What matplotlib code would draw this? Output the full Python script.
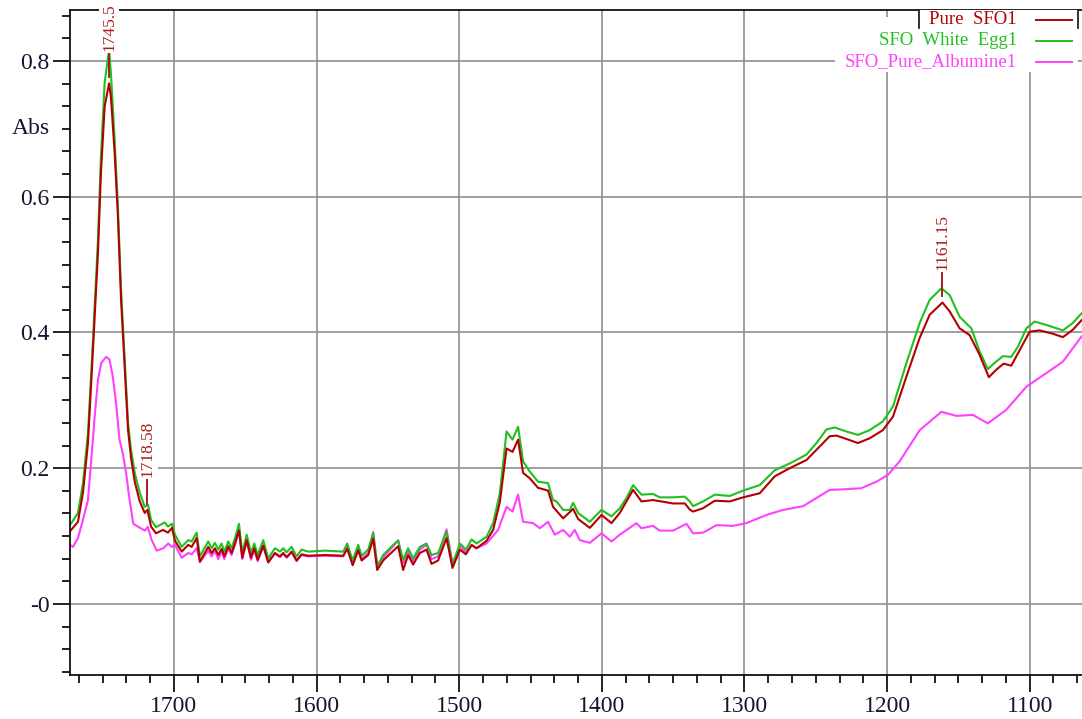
import numpy as np
import matplotlib
matplotlib.use("Agg")
import matplotlib.pyplot as plt
from matplotlib.ticker import FixedLocator, FixedFormatter, MultipleLocator
from matplotlib.transforms import Bbox, TransformedBbox, blended_transform_factory
from matplotlib.patches import Rectangle
from matplotlib.lines import Line2D

# ---------------- spectra (wavenumber in cm-1, absorbance) ----------------
# shared grid through the noisy 1700-1480 region
wn_mid = [1699.3, 1694.6, 1690.0, 1687.6, 1684.1, 1681.8, 1676.0, 1673.6, 1671.3, 1668.9,
          1666.6, 1664.7, 1661.9, 1659.6, 1657.2, 1654.4, 1652.1, 1649.0, 1646.0, 1643.7,
          1641.3, 1637.4, 1633.9, 1629.2, 1625.7, 1623.4, 1621.0, 1617.5, 1614.0, 1610.5,
          1605.9, 1594.2, 1581.3, 1578.5, 1574.7, 1570.8, 1568.4, 1563.8, 1560.3, 1557.5,
          1553.3, 1546.3, 1542.8, 1539.3, 1535.8, 1532.3, 1527.6, 1522.9, 1519.4, 1514.8,
          1508.9, 1504.7, 1499.5, 1495.3, 1491.3, 1487.8, 1480.8]

# Pure SFO1
sfo_left_wn = [1772.9, 1767.3, 1763.8, 1760.3, 1756.8, 1753.3, 1751.2, 1748.6, 1745.5, 1744.2,
               1741.6, 1739.3, 1737.1, 1734.6, 1732.2, 1730.1, 1727.5, 1724.0, 1720.5, 1718.58,
               1716.1, 1712.6, 1707.7, 1704.2, 1701.4]
sfo_left = [0.107, 0.121, 0.164, 0.237, 0.374, 0.517, 0.635, 0.733, 0.767, 0.747,
            0.665, 0.571, 0.448, 0.350, 0.256, 0.215, 0.180, 0.151, 0.134, 0.1385,
            0.114, 0.104, 0.109, 0.105, 0.112]
sfo_mid = [0.093, 0.077, 0.087, 0.084, 0.097, 0.062, 0.084, 0.075, 0.082, 0.072,
           0.081, 0.070, 0.085, 0.075, 0.089, 0.108, 0.068, 0.094, 0.068, 0.082,
           0.065, 0.086, 0.061, 0.075, 0.070, 0.075, 0.069, 0.077, 0.064, 0.073,
           0.071, 0.072, 0.071, 0.081, 0.057, 0.079, 0.064, 0.072, 0.096, 0.050,
           0.064, 0.078, 0.085, 0.050, 0.072, 0.058, 0.075, 0.080, 0.059, 0.064,
           0.097, 0.053, 0.080, 0.073, 0.087, 0.082, 0.093]
sfo_right_wn = [1476.2, 1471.5, 1466.8, 1462.6, 1458.7, 1455.2, 1450.5, 1444.7, 1437.7, 1434.2,
                1427.1, 1420.1, 1416.6, 1408.4, 1400.2, 1393.2, 1387.4, 1378.1, 1372.2, 1364.1,
                1350.0, 1341.8, 1338.3, 1336.0, 1329.0, 1320.8, 1310.3, 1300.9, 1289.3, 1278.7,
                1268.2, 1256.5, 1249.5, 1240.2, 1235.5, 1228.5, 1220.4, 1212.2, 1202.9, 1195.8,
                1186.4, 1177.1, 1170.1, 1161.15, 1156.1, 1149.1, 1142.1, 1135.1, 1128.6, 1123.4,
                1118.3, 1112.9, 1107.0, 1100.0, 1093.0, 1083.7, 1076.7, 1069.7, 1063.6]
sfo_right = [0.109, 0.150, 0.229, 0.224, 0.242, 0.193, 0.185, 0.171, 0.167, 0.143,
             0.126, 0.140, 0.125, 0.112, 0.131, 0.119, 0.134, 0.168, 0.151, 0.153,
             0.148, 0.148, 0.139, 0.136, 0.141, 0.152, 0.151, 0.157, 0.163, 0.188,
             0.200, 0.212, 0.227, 0.247, 0.248, 0.243, 0.237, 0.244, 0.256, 0.276,
             0.335, 0.392, 0.426, 0.444, 0.431, 0.406, 0.396, 0.367, 0.334, 0.345,
             0.354, 0.351, 0.374, 0.401, 0.403, 0.398, 0.393, 0.404, 0.418]

# SFO White Egg1
egg_left_wn = [1772.9, 1767.3, 1763.8, 1760.3, 1756.8, 1753.3, 1751.2, 1748.6, 1745.5, 1744.2,
               1741.6, 1739.3, 1737.1, 1734.6, 1732.2, 1730.1, 1727.5, 1724.0, 1720.5, 1718.2,
               1716.1, 1712.6, 1706.5, 1704.2, 1701.4]
egg_left = [0.116, 0.134, 0.178, 0.252, 0.389, 0.536, 0.659, 0.768, 0.816, 0.782,
            0.684, 0.585, 0.463, 0.364, 0.267, 0.227, 0.193, 0.164, 0.143, 0.146,
            0.124, 0.113, 0.120, 0.114, 0.118]
egg_mid = [0.102, 0.084, 0.094, 0.092, 0.105, 0.070, 0.092, 0.082, 0.090, 0.080,
           0.089, 0.077, 0.092, 0.082, 0.097, 0.118, 0.075, 0.102, 0.075, 0.089,
           0.072, 0.094, 0.067, 0.082, 0.077, 0.082, 0.076, 0.084, 0.070, 0.080,
           0.077, 0.0785, 0.077, 0.089, 0.064, 0.087, 0.071, 0.080, 0.104, 0.055,
           0.072, 0.087, 0.093, 0.065, 0.082, 0.067, 0.084, 0.089, 0.072, 0.075,
           0.1065, 0.0575, 0.089, 0.080, 0.095, 0.089, 0.099]
egg_right_wn = [1476.2, 1471.5, 1466.8, 1462.6, 1458.7, 1455.2, 1450.5, 1444.7, 1437.7, 1434.2,
                1431.8, 1427.1, 1422.4, 1420.1, 1416.6, 1408.4, 1400.2, 1393.2, 1387.4, 1382.7,
                1378.1, 1372.2, 1364.1, 1359.4, 1350.0, 1341.8, 1338.3, 1336.0, 1329.0, 1320.8,
                1310.3, 1300.9, 1289.3, 1278.7, 1268.2, 1256.5, 1249.5, 1242.5, 1236.7, 1228.5,
                1220.4, 1212.2, 1202.9, 1195.8, 1186.4, 1177.1, 1170.1, 1161.9, 1156.1, 1149.1,
                1140.9, 1135.1, 1129.3, 1124.6, 1118.8, 1112.9, 1108.2, 1102.3, 1096.5, 1088.3,
                1076.7, 1069.7, 1063.6]
egg_right = [0.119, 0.163, 0.254, 0.242, 0.261, 0.210, 0.195, 0.180, 0.178, 0.153,
             0.151, 0.1385, 0.1385, 0.149, 0.134, 0.121, 0.1385, 0.129, 0.141, 0.156,
             0.175, 0.161, 0.162, 0.157, 0.157, 0.158, 0.151, 0.144, 0.151, 0.161,
             0.159, 0.167, 0.175, 0.197, 0.207, 0.220, 0.237, 0.257, 0.260, 0.254,
             0.249, 0.256, 0.269, 0.291, 0.355, 0.414, 0.448, 0.465, 0.455, 0.423,
             0.406, 0.372, 0.346, 0.355, 0.365, 0.364, 0.379, 0.406, 0.416, 0.411,
             0.403, 0.414, 0.428]

# SFO_Pure_Albumine1
alb_left_wn = [1772.9, 1770.8, 1767.3, 1763.8, 1760.3, 1758.0, 1755.6, 1753.3, 1751.0, 1747.5,
               1745.2, 1742.9, 1740.6, 1738.2, 1735.9, 1733.6, 1731.1, 1728.5, 1723.8, 1720.3,
               1718.4, 1715.6, 1712.1, 1707.5, 1704.0, 1701.6]
alb_left = [0.087, 0.084, 0.097, 0.124, 0.153, 0.212, 0.276, 0.330, 0.355, 0.364,
            0.360, 0.335, 0.296, 0.242, 0.222, 0.193, 0.153, 0.118, 0.112, 0.108,
            0.1135, 0.094, 0.0785, 0.082, 0.089, 0.084]
alb_mid = [0.087, 0.068, 0.075, 0.073, 0.082, 0.062, 0.078, 0.070, 0.078, 0.066,
           0.077, 0.066, 0.082, 0.072, 0.088, 0.110, 0.066, 0.092, 0.065, 0.080,
           0.063, 0.084, 0.062, 0.074, 0.069, 0.074, 0.068, 0.076, 0.063, 0.072,
           0.070, 0.071, 0.070, 0.084, 0.060, 0.084, 0.066, 0.075, 0.106, 0.058,
           0.068, 0.085, 0.094, 0.060, 0.078, 0.063, 0.080, 0.087, 0.066, 0.070,
           0.110, 0.060, 0.085, 0.076, 0.086, 0.082, 0.089]
alb_right_wn = [1472.7, 1466.8, 1462.6, 1458.7, 1455.2, 1448.2, 1443.5, 1437.7, 1433.0, 1427.1,
                1422.4, 1419.0, 1415.4, 1408.4, 1400.2, 1393.2, 1387.4, 1375.7, 1372.2, 1364.1,
                1359.4, 1350.0, 1340.6, 1336.0, 1329.0, 1319.6, 1308.0, 1298.6, 1284.6, 1272.9,
                1258.9, 1249.5, 1240.2, 1228.5, 1218.0, 1207.5, 1199.4, 1191.2, 1177.1, 1161.9,
                1151.4, 1139.8, 1129.3, 1116.4, 1102.3, 1088.3, 1076.7, 1063.6]
alb_right = [0.109, 0.143, 0.136, 0.161, 0.121, 0.119, 0.1115, 0.121, 0.102, 0.109,
             0.099, 0.109, 0.094, 0.090, 0.104, 0.092, 0.102, 0.119, 0.1115, 0.115,
             0.108, 0.108, 0.118, 0.104, 0.105, 0.116, 0.115, 0.119, 0.131, 0.1385,
             0.144, 0.156, 0.168, 0.169, 0.1705, 0.180, 0.190, 0.210, 0.256, 0.283,
             0.277, 0.2785, 0.266, 0.286, 0.320, 0.340, 0.357, 0.394]

series_names = ["Pure  SFO1", "SFO  White  Egg1", "SFO_Pure_Albumine1"]
series_colors = ["#b40000", "#1fc01f", "#ff40ff"]

# peak labels placed on the Pure SFO1 trace
peak_positions = [1745.5, 1718.58, 1161.15]
peak_labels = ["1745.5", "1718.58", "1161.15"]

x_ticks = [1700, 1600, 1500, 1400, 1300, 1200, 1100]
x_tick_labels = ["1700", "1600", "1500", "1400", "1300", "1200", "1100"]
y_ticks = [0.8, 0.6, 0.4, 0.2, 0.0]
y_tick_labels = ["0.8", "0.6", "0.4", "0.2", "-0"]

# ---------------- assemble ----------------
sfo_wn = np.array(sfo_left_wn + wn_mid + sfo_right_wn)
sfo_ab = np.array(sfo_left + sfo_mid + sfo_right)
egg_wn = np.array(egg_left_wn + wn_mid + egg_right_wn)
egg_ab = np.array(egg_left + egg_mid + egg_right)
alb_wn = np.array(alb_left_wn + wn_mid + alb_right_wn)
alb_ab = np.array(alb_left + alb_mid + alb_right)

plt.rcParams["font.family"] = ["Liberation Serif", "DejaVu Serif"]
text_color = "#15152e"
label_red = "#a81c1c"

W, H = 1082, 719
fig = plt.figure(figsize=(W / 100, H / 100), dpi=100)
ax = fig.add_axes([70 / W, (H - 674.5) / H, 1012 / W, 664.5 / H])
ax.set_xlim(1772.9, 1063.3)
ax.set_ylim(-0.104, 0.875)

ax.grid(True, which="major", color="#8f8f8f", lw=1.2, zorder=0)
ax.set_axisbelow(True)

for wn, ab, c, z in [(alb_wn, alb_ab, series_colors[2], 2.2),
                     (egg_wn, egg_ab, series_colors[1], 2.3),
                     (sfo_wn, sfo_ab, series_colors[0], 2.4)]:
    ax.plot(wn, ab, color=c, lw=1.5, zorder=z, solid_joinstyle="round")

# axes styling
ax.spines["right"].set_visible(False)
for s in ["left", "bottom", "top"]:
    ax.spines[s].set_linewidth(1.3)
    ax.spines[s].set_color("#111111")

ax.xaxis.set_major_locator(FixedLocator(x_ticks))
ax.xaxis.set_major_formatter(FixedFormatter(x_tick_labels))
ax.xaxis.set_minor_locator(MultipleLocator(100 / 6))
ax.yaxis.set_major_locator(FixedLocator(y_ticks))
ax.yaxis.set_major_formatter(FixedFormatter(y_tick_labels))
ax.yaxis.set_minor_locator(MultipleLocator(0.2 / 6))
ax.tick_params(which="major", direction="out", length=12.5, width=1.3,
               color="#111111", labelsize=17, labelcolor=text_color, pad=2)
ax.tick_params(which="minor", direction="out", length=6, width=1.3, color="#111111")
ax.tick_params(axis="x", which="major", pad=3)

# y-axis title sitting in the label column
ax.text(-0.0195, 0.7, "Abs", transform=blended_transform_factory(ax.transAxes, ax.transData),
        ha="right", va="center", fontsize=17, color=text_color)

# peak markers: short tick above the trace plus rotated wavenumber
clip = TransformedBbox(Bbox([[0, 0], [1, 1.004]]), ax.transAxes)
for pos, lab in zip(peak_positions, peak_labels):
    yv = float(np.interp(pos, sfo_wn[::-1], sfo_ab[::-1]))
    y0, y1 = yv + 0.009, yv + 0.045
    ax.plot([pos, pos], [y0, y1], color=label_red, lw=1.4, zorder=3)
    t = ax.text(pos, y1 + 0.003, lab, rotation=90, ha="center", va="bottom",
                fontsize=12.5, color=label_red, zorder=6,
                bbox=dict(facecolor="white", edgecolor="none", pad=1.5))
    t.set_clip_box(clip)
    t.set_clip_on(True)

# legend block (top-right, right-aligned names followed by line samples)
def fx(px):
    return (px - 70) / 1012

def fy(py):
    return 1 - (py - 10) / 664.5

ax.add_patch(Rectangle((fx(835), fy(72)), fx(1078) - fx(835), fy(17) - fy(72),
                       transform=ax.transAxes, facecolor="white", edgecolor="none",
                       zorder=4, clip_on=False))
ax.add_patch(Rectangle((fx(919), fy(31)), fx(1078) - fx(919), fy(10) - fy(31),
                       transform=ax.transAxes, facecolor="white", edgecolor="none",
                       zorder=4, clip_on=False))
for xb in (919, 1078):
    ax.add_line(Line2D([fx(xb), fx(xb)], [fy(10), fy(28)], transform=ax.transAxes,
                       color="#222222", lw=1.3, zorder=5, clip_on=False))
for i, (name, c) in enumerate(zip(series_names, series_colors)):
    yy = fy(20 + 21 * i)
    ax.text(fx(1017), yy, name, transform=ax.transAxes, ha="right", va="center",
            fontsize=13.5, color=c, zorder=6)
    ax.add_line(Line2D([fx(1036), fx(1072)], [yy, yy], transform=ax.transAxes,
                       color=c, lw=1.4, zorder=6, clip_on=False))

fig.savefig("out.png", dpi=100)
